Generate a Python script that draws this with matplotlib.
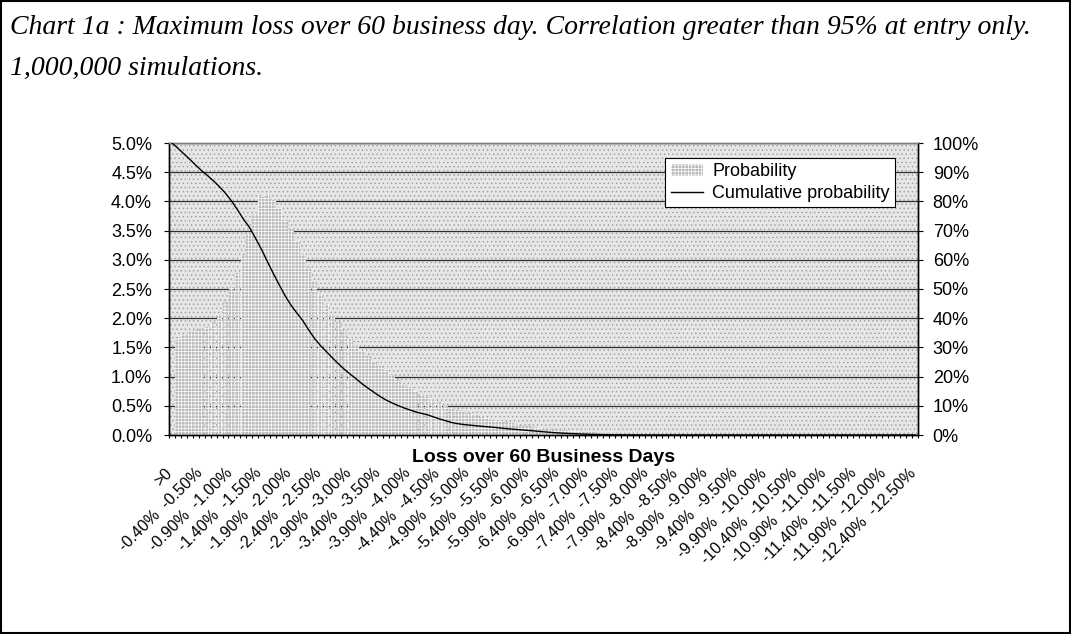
import numpy as np
import matplotlib
matplotlib.use('Agg')
import matplotlib.pyplot as plt
from matplotlib.patches import Rectangle, Patch
from matplotlib.lines import Line2D
from matplotlib.ticker import FuncFormatter, MultipleLocator

title_lines = ["Chart 1a : Maximum loss over 60 business day. Correlation greater than 95% at entry only.",
               "1,000,000 simulations."]
x_title = "Loss over 60 Business Days"
legend_labels = ["Probability", "Cumulative probability"]

# tick labels shown on every 5th category
tick_labels = [">0", "-0.40%  -0.50%", "-0.90%  -1.00%", "-1.40%  -1.50%", "-1.90%  -2.00%",
               "-2.40%  -2.50%", "-2.90%  -3.00%", "-3.40%  -3.50%", "-3.90%  -4.00%",
               "-4.40%  -4.50%", "-4.90%  -5.00%", "-5.40%  -5.50%", "-5.90%  -6.00%",
               "-6.40%  -6.50%", "-6.90%  -7.00%", "-7.40%  -7.50%", "-7.90%  -8.00%",
               "-8.40%  -8.50%", "-8.90%  -9.00%", "-9.40%  -9.50%", "-9.90%  -10.00%",
               "-10.40%  -10.50%", "-10.90%  -11.00%", "-11.40%  -11.50%", "-11.90%  -12.00%",
               "-12.40%  -12.50%"]

# probability per category (%)
probability = [
    0.00, 1.63, 1.72, 1.77, 1.79, 1.81, 1.85, 1.93, 2.06, 2.27,
    2.53, 2.78, 3.08, 3.45, 3.78, 4.08, 4.12, 4.03, 3.88, 3.68,
    3.52, 3.32, 3.10, 2.88, 2.62, 2.42, 2.25, 2.08, 1.93, 1.80,
    1.66, 1.54, 1.44, 1.36, 1.27, 1.19, 1.11, 1.03, 0.95, 0.88,
    0.82, 0.76, 0.70, 0.65, 0.60, 0.56, 0.52, 0.47, 0.43, 0.40,
    0.37, 0.34, 0.31, 0.29, 0.26, 0.24, 0.22, 0.20, 0.18, 0.16,
    0.15, 0.13, 0.12, 0.11, 0.10, 0.09, 0.08, 0.07, 0.06, 0.055,
    0.05, 0.045, 0.04, 0.035, 0.03, 0.026, 0.022, 0.019, 0.016, 0.014,
    0.012, 0.010, 0.009, 0.008, 0.007, 0.006, 0.005, 0.004, 0.004, 0.003,
    0.003, 0.002, 0.002, 0.002, 0.001, 0.001, 0.001, 0.001, 0.0, 0.0,
    0.0, 0.0, 0.0, 0.0, 0.0, 0.0, 0.0, 0.0, 0.0, 0.0,
    0.0, 0.0, 0.0, 0.0, 0.0, 0.0, 0.0, 0.0, 0.0, 0.0,
    0.0, 0.0, 0.0, 0.0, 0.0, 0.0,
]

# cumulative probability per category (%)
cumulative = [
    100.0, 98.2, 96.3, 94.4, 92.4, 90.5, 88.8, 87.0, 85.0, 82.8,
    80.2, 77.2, 74.0, 71.2, 67.6, 63.8, 59.6, 55.5, 51.6, 47.8,
    44.5, 41.8, 39.2, 36.0, 33.0, 30.6, 28.5, 26.4, 24.4, 22.5,
    20.8, 19.2, 17.5, 16.0, 14.6, 13.2, 12.0, 11.0, 10.1, 9.3,
    8.6, 7.9, 7.4, 6.9, 6.2, 5.5, 4.9, 4.3, 3.9, 3.6,
    3.4, 3.2, 3.0, 2.85, 2.65, 2.45, 2.25, 2.05, 1.9, 1.72,
    1.55, 1.38, 1.2, 1.02, 0.86, 0.72, 0.6, 0.5, 0.41, 0.33,
    0.26, 0.2, 0.15, 0.11, 0.08, 0.06, 0.04, 0.03, 0.02, 0.015,
    0.01, 0.008, 0.006, 0.005, 0.004, 0.003, 0.002, 0.002, 0.001, 0.001,
    0.0, 0.0, 0.0, 0.0, 0.0, 0.0, 0.0, 0.0, 0.0, 0.0,
    0.0, 0.0, 0.0, 0.0, 0.0, 0.0, 0.0, 0.0, 0.0, 0.0,
    0.0, 0.0, 0.0, 0.0, 0.0, 0.0, 0.0, 0.0, 0.0, 0.0,
    0.0, 0.0, 0.0, 0.0, 0.0, 0.0,
]

plt.rcParams['font.family'] = ['Liberation Sans', 'DejaVu Sans']
plt.rcParams['hatch.linewidth'] = 0.5

W, H = 1071, 634
fig = plt.figure(figsize=(W / 100, H / 100), dpi=100)
L, R, T, B = 169, 918, 143, 435
ax = fig.add_axes([L / W, 1 - B / H, (R - L) / W, (B - T) / H])

n = len(probability)
x = np.arange(n)
bar_color = '#bababa'
ax.patch.set_facecolor('#e6e6e6')
ax.patch.set_hatch('....')
ax.patch.set_edgecolor('#9c9c9c')
ax.patch.set_linewidth(0)

ax.bar(x, np.array(probability) / 100, width=0.94, color=bar_color, edgecolor='white',
       hatch='+++++', linewidth=0, zorder=2)
ax.set_xlim(-0.5, n - 0.5)
ax.set_ylim(0, 0.05)
ax.yaxis.set_major_locator(MultipleLocator(0.005))
ax.yaxis.set_major_formatter(FuncFormatter(lambda v, p: f"{v * 100:.1f}%"))
ax.set_axisbelow(True)
ax.grid(axis='y', color='#303030', lw=0.9)
ax.set_xticks(np.arange(-0.5, n, 1))
ax.set_xticklabels([])
ax.tick_params(axis='x', length=2.5, width=0.8, direction='out', color='black')
ax.tick_params(axis='y', length=3.6, width=0.8, direction='out', labelsize=13, pad=8.6)

ax2 = ax.twinx()
ax2.plot(x, np.array(cumulative) / 100, color='black', lw=1.0, zorder=3)
ax2.set_ylim(0, 1)
ax2.yaxis.set_major_locator(MultipleLocator(0.1))
ax2.yaxis.set_major_formatter(FuncFormatter(lambda v, p: f"{v * 100:.0f}%"))
ax2.tick_params(axis='y', length=3.6, width=0.8, direction='out', labelsize=13, pad=7)

for a in (ax, ax2):
    a.spines['top'].set_color('#808080')
    a.spines['top'].set_linewidth(1.0)
    for s in ('left', 'right', 'bottom'):
        a.spines[s].set_color('black')
        a.spines[s].set_linewidth(1.0)

# category labels, every 5th category
for j, lab in enumerate(tick_labels):
    ci = 5 * j
    ax.annotate(lab, xy=(ci, 0), xycoords=('data', 'axes fraction'),
                xytext=(-5, -22), textcoords='offset points',
                rotation=45, rotation_mode='anchor', ha='right', va='top', fontsize=11.5)

fig.text(((L + R) / 2) / W, 1 - 458 / H, x_title, ha='center', va='center',
         fontsize=14, fontweight='bold')

handles = [Patch(facecolor=bar_color, edgecolor='white', hatch='+++++', linewidth=0),
           Line2D([], [], color='black', lw=1.0)]
leg = ax2.legend(handles, legend_labels, loc='upper right',
                 bbox_to_anchor=(895 / W, 1 - 158 / H), bbox_transform=fig.transFigure,
                 fancybox=False, framealpha=1, edgecolor='black', fontsize=13,
                 borderaxespad=0, handlelength=1.8, handletextpad=0.5,
                 borderpad=0.3, labelspacing=0.25)
leg.get_frame().set_linewidth(0.8)

for k, line in enumerate(title_lines):
    fig.text(10 / W, 1 - (28 + 40 * k) / H, line, ha='left', va='center',
             family=['Liberation Serif'], style='italic', fontsize=20)

fig.add_artist(Rectangle((1 / W, 1 / H), 1 - 2 / W, 1 - 2 / H, transform=fig.transFigure,
                         fill=False, ec='black', lw=1.5))

fig.savefig('out.png', dpi=100)
